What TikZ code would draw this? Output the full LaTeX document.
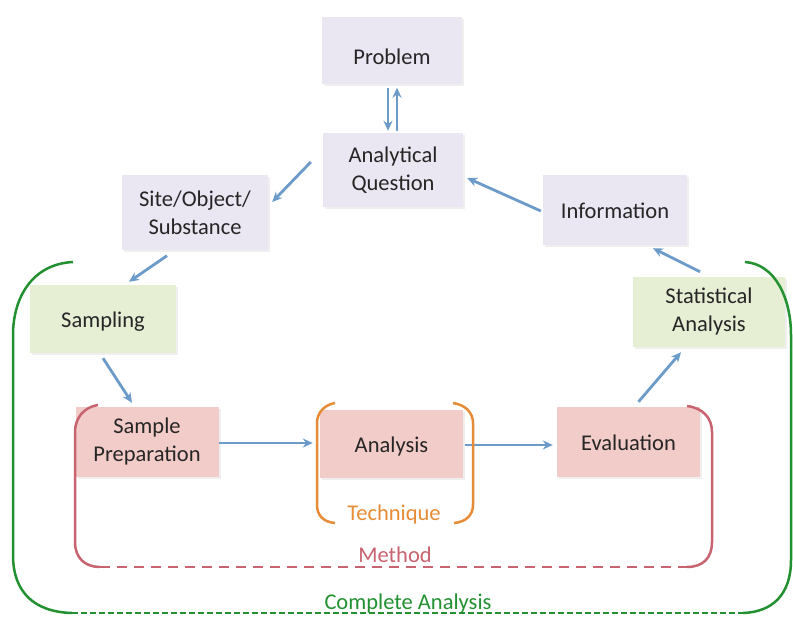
\documentclass[tikz,border=0pt]{standalone}
\usepackage{fontspec}
\setmainfont{Carlito}
\usetikzlibrary{arrows.meta,shadows}
\definecolor{arrblue}{RGB}{108,155,202}
\definecolor{lav}{RGB}{234,230,242}
\definecolor{lgreen}{RGB}{230,238,212}
\definecolor{lpink}{RGB}{242,204,200}
\definecolor{cgreen}{RGB}{35,145,50}
\definecolor{cred}{RGB}{200,100,112}
\definecolor{corange}{RGB}{230,140,55}
\tikzset{
  box/.style={draw=none, align=center, inner sep=0pt, font=\fontsize{22.5}{28}\selectfont,
     text=black!85, drop shadow={opacity=0.12, shadow xshift=2pt, shadow yshift=-2pt}},
  lavbox/.style={box, fill=lav},
  grnbox/.style={box, fill=lgreen},
  pnkbox/.style={box, fill=lpink},
  oneline/.style={text depth=0pt, text height=18pt},
  arr/.style={draw=arrblue, line width=2.8pt, -{Stealth[length=10pt,width=9pt]}},
  lbl/.style={font=\fontsize{22.5}{28}\selectfont, inner sep=0pt},
}
\begin{document}
\begin{tikzpicture}[x=1pt,y=-1pt]
\useasboundingbox (0,0) rectangle (793,617);
\fill[white] (0,0) rectangle (793,617);
% nodes
\node[lavbox, minimum width=140, minimum height=67, text depth=0pt, text height=27pt] (prob) at (392,51) {Problem};
\node[lavbox, minimum width=140, minimum height=74] (aq) at (393,170) {Analytical\\Question};
\node[lavbox, minimum width=146, minimum height=75] (site) at (195,213) {Site/Object/\\Substance};
\node[lavbox, oneline, minimum width=144, minimum height=70] (info) at (615,210) {Information};
\node[grnbox, oneline, minimum width=146, minimum height=68] (samp) at (103,319) {Sampling};
\node[grnbox, minimum width=152, minimum height=70] (stat) at (709,312) {Statistical\\Analysis};
\node[pnkbox, minimum width=143, minimum height=70] (prep) at (147,442) {Sample\\Preparation};
\node[pnkbox, oneline, minimum width=143, minimum height=68] (ana) at (391.5,444) {Analysis};
\node[pnkbox, oneline, minimum width=143, minimum height=70] (eval) at (628.5,442) {Evaluation};
% arrows
\draw[arr] ([shift={(-4,3)}]prob.south) -- ([shift={(-5,-2)}]aq.north);
\draw[arr] ([shift={(4,-2)}]aq.north) -- ([shift={(5,3)}]prob.south);
\draw[arr] ([shift={(-12,-8)}]aq.west) -- ([shift={(4,-11)}]site.east);
\draw[arr] ([shift={(-28,5)}]site.south) -- ([shift={(26,-3)}]samp.north);
\draw[arr] ([shift={(0,5)}]samp.south) -- ([shift={(-15,-4)}]prep.north);
\draw[arr] ([shift={(0,1)}]prep.east) -- ([shift={(-7,-1)}]ana.west);
\draw[arr] ([shift={(2,1)}]ana.east) -- ([shift={(-4,3)}]eval.west);
\draw[arr] ([shift={(10,-5)}]eval.north) -- ([shift={(-28,5)}]stat.south);
\draw[arr] ([shift={(-9,-5)}]stat.north) -- ([shift={(38,3)}]info.south);
\draw[arr] ([shift={(-2,1)}]info.west) -- ([shift={(4,8)}]aq.east);
% green bracket: complete analysis
\draw[cgreen, line width=2.5pt] (73,262) .. controls (32,264) and (13,298) .. (13,335) -- (13,555) .. controls (13,592) and (34,612) .. (72,613);
\draw[cgreen, line width=2.5pt] (745,262) .. controls (775,264) and (791,298) .. (791,335) -- (791,560) .. controls (791,595) and (772,612) .. (743,613);
\draw[cgreen, line width=2pt, dash pattern=on 6pt off 3pt] (72,613) -- (743,613);
% red bracket: method
\draw[cred, line width=2.5pt] (98,405) .. controls (84,407) and (75,418) .. (75,432) -- (75,542) .. controls (75,558) and (85,567) .. (100,567);
\draw[cred, line width=2.5pt] (687,406) .. controls (703,408) and (712,418) .. (712,432) -- (712,542) .. controls (712,558) and (703,567) .. (687,567);
\draw[cred, line width=2.5pt, dash pattern=on 10pt off 7pt] (100,567) -- (687,567);
% orange bracket: technique
\draw[corange, line width=2.5pt] (335,403) .. controls (324,405) and (317,413) .. (317,423) -- (317,505) .. controls (317,515) and (323,522) .. (335,523);
\draw[corange, line width=2.5pt] (453,403) .. controls (466,405) and (473,413) .. (473,423) -- (473,505) .. controls (473,515) and (466,522) .. (454,523);
% labels
\node[lbl, text=corange] (tech) at (394,515) {Technique};
\node[lbl, text=cred] (meth) at (395,555) {Method};
\node[lbl, text=cgreen] (comp) at (408,604) {Complete Analysis};
\end{tikzpicture}
\end{document}
